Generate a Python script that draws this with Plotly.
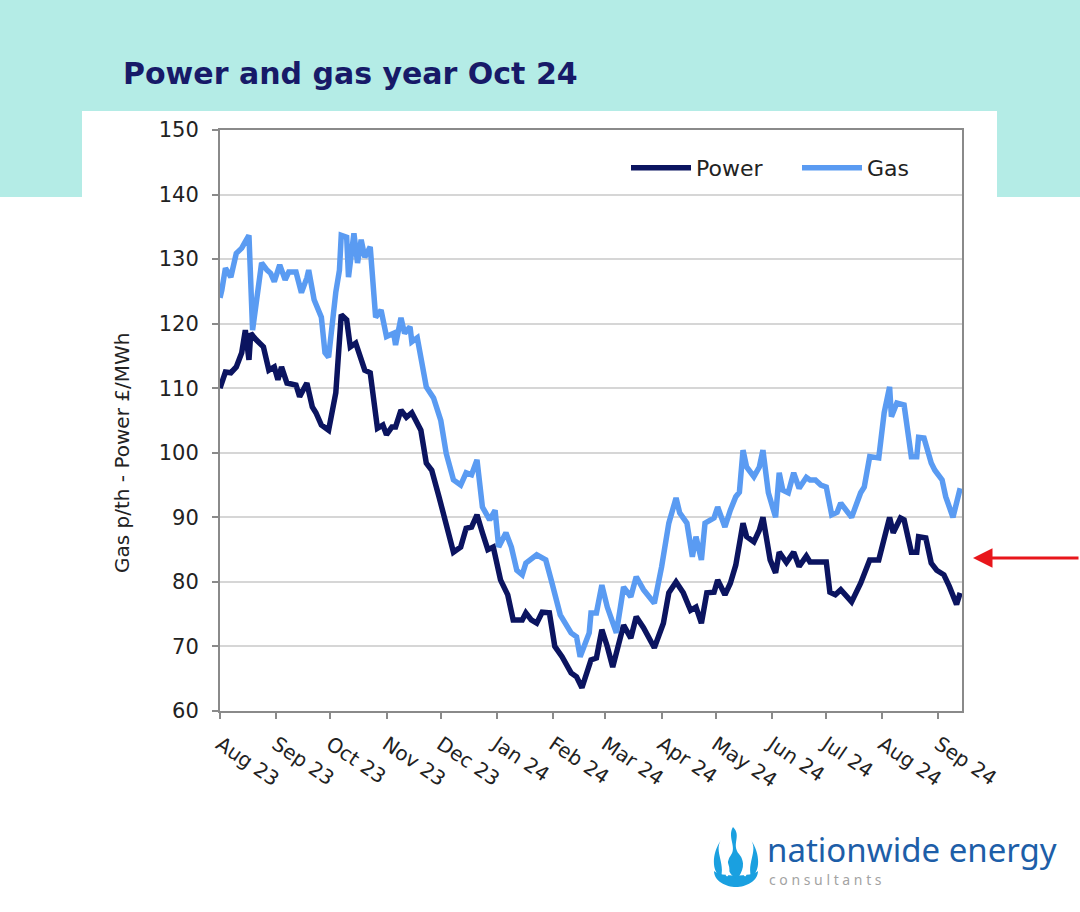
import base64
import plotly.graph_objects as go

# ---------------- data ----------------
power_dates = [
    "2023-08-01", "2023-08-04", "2023-08-07", "2023-08-10", "2023-08-13", "2023-08-15",
    "2023-08-17", "2023-08-18", "2023-08-21", "2023-08-25", "2023-08-28", "2023-08-31",
    "2023-09-02", "2023-09-04", "2023-09-07", "2023-09-12", "2023-09-14", "2023-09-18",
    "2023-09-21", "2023-09-23", "2023-09-26", "2023-09-30", "2023-10-04", "2023-10-07",
    "2023-10-10", "2023-10-12", "2023-10-15", "2023-10-18", "2023-10-20", "2023-10-23",
    "2023-10-27", "2023-10-30", "2023-11-01", "2023-11-04", "2023-11-06", "2023-11-09",
    "2023-11-12", "2023-11-15", "2023-11-17", "2023-11-20", "2023-11-23", "2023-11-26",
    "2023-11-30", "2023-12-04", "2023-12-08", "2023-12-12", "2023-12-15", "2023-12-18",
    "2023-12-21", "2023-12-24", "2023-12-27", "2023-12-30", "2024-01-03", "2024-01-07",
    "2024-01-10", "2024-01-15", "2024-01-17", "2024-01-20", "2024-01-23", "2024-01-26",
    "2024-01-30", "2024-02-02", "2024-02-06", "2024-02-11", "2024-02-14", "2024-02-17",
    "2024-02-22", "2024-02-25", "2024-02-28", "2024-03-02", "2024-03-05", "2024-03-11",
    "2024-03-15", "2024-03-18", "2024-03-22", "2024-03-28", "2024-04-02", "2024-04-05",
    "2024-04-09", "2024-04-13", "2024-04-17", "2024-04-20", "2024-04-23", "2024-04-26",
    "2024-04-30", "2024-05-02", "2024-05-06", "2024-05-09", "2024-05-12", "2024-05-16",
    "2024-05-18", "2024-05-22", "2024-05-25", "2024-05-27", "2024-05-30", "2024-05-31",
    "2024-06-03", "2024-06-05", "2024-06-09", "2024-06-13", "2024-06-16", "2024-06-20",
    "2024-06-22", "2024-07-01", "2024-07-03", "2024-07-06", "2024-07-09", "2024-07-15",
    "2024-07-20", "2024-07-25", "2024-07-30", "2024-08-02", "2024-08-05", "2024-08-07",
    "2024-08-11", "2024-08-13", "2024-08-17", "2024-08-20", "2024-08-21", "2024-08-25",
    "2024-08-28", "2024-08-31", "2024-09-04", "2024-09-07", "2024-09-11", "2024-09-13",
]
power_values = [
    110.0, 112.5, 112.4, 113.3, 115.5, 119.0,
    114.4, 118.5, 117.5, 116.4, 112.8, 113.3,
    111.3, 113.3, 110.8, 110.5, 108.7, 110.8,
    107.1, 106.2, 104.3, 103.5, 109.3, 121.4,
    120.6, 116.4, 117.0, 114.8, 112.8, 112.4,
    103.8, 104.3, 102.8, 104.0, 104.0, 106.6,
    105.5, 106.2, 105.0, 103.5, 98.4, 97.3,
    93.2, 89.1, 84.6, 85.4, 88.3, 88.5,
    90.4, 87.6, 85.0, 85.4, 80.3, 78.0,
    74.1, 74.1, 75.2, 74.1, 73.6, 75.3,
    75.2, 70.0, 68.4, 65.9, 65.3, 63.6,
    67.9, 68.2, 72.6, 70.0, 66.8, 73.3,
    71.3, 74.6, 72.9, 69.8, 73.6, 78.3,
    80.0, 78.3, 75.6, 76.1, 73.6, 78.3,
    78.4, 80.3, 78.0, 79.8, 82.6, 89.1,
    87.0, 86.2, 88.0, 90.0, 84.5, 83.4,
    81.4, 84.6, 83.0, 84.6, 82.4, 84.0,
    83.1, 83.1, 78.4, 78.0, 78.8, 76.9,
    79.8, 83.4, 83.4, 86.5, 90.0, 87.6,
    89.9, 89.6, 84.6, 84.6, 87.0, 86.8,
    82.9, 81.8, 81.1, 79.3, 76.5, 78.3,
]

gas_dates = [
    "2023-08-01", "2023-08-02", "2023-08-04", "2023-08-06", "2023-08-07", "2023-08-10",
    "2023-08-13", "2023-08-15", "2023-08-17", "2023-08-19", "2023-08-21", "2023-08-24",
    "2023-08-27", "2023-08-29", "2023-08-31", "2023-09-03", "2023-09-06", "2023-09-08",
    "2023-09-12", "2023-09-15", "2023-09-18", "2023-09-19", "2023-09-22", "2023-09-25",
    "2023-09-26", "2023-09-28", "2023-09-30", "2023-10-04", "2023-10-06", "2023-10-07",
    "2023-10-10", "2023-10-11", "2023-10-14", "2023-10-16", "2023-10-18", "2023-10-20",
    "2023-10-23", "2023-10-26", "2023-10-29", "2023-11-01", "2023-11-05", "2023-11-06",
    "2023-11-09", "2023-11-11", "2023-11-14", "2023-11-15", "2023-11-18", "2023-11-23",
    "2023-11-27", "2023-12-01", "2023-12-04", "2023-12-08", "2023-12-12", "2023-12-15",
    "2023-12-18", "2023-12-21", "2023-12-24", "2023-12-28", "2023-12-31", "2024-01-02",
    "2024-01-06", "2024-01-09", "2024-01-12", "2024-01-15", "2024-01-17", "2024-01-23",
    "2024-01-28", "2024-01-31", "2024-02-05", "2024-02-11", "2024-02-14", "2024-02-16",
    "2024-02-21", "2024-02-22", "2024-02-25", "2024-02-28", "2024-03-02", "2024-03-07",
    "2024-03-11", "2024-03-15", "2024-03-18", "2024-03-22", "2024-03-28", "2024-04-01",
    "2024-04-05", "2024-04-09", "2024-04-11", "2024-04-15", "2024-04-18", "2024-04-20",
    "2024-04-23", "2024-04-25", "2024-04-30", "2024-05-02", "2024-05-06", "2024-05-09",
    "2024-05-12", "2024-05-14", "2024-05-16", "2024-05-18", "2024-05-22", "2024-05-25",
    "2024-05-27", "2024-05-30", "2024-06-03", "2024-06-05", "2024-06-07", "2024-06-10",
    "2024-06-13", "2024-06-16", "2024-06-20", "2024-06-22", "2024-06-25", "2024-06-28",
    "2024-07-01", "2024-07-04", "2024-07-07", "2024-07-09", "2024-07-12", "2024-07-15",
    "2024-07-20", "2024-07-22", "2024-07-25", "2024-07-30", "2024-08-02", "2024-08-05",
    "2024-08-06", "2024-08-09", "2024-08-13", "2024-08-17", "2024-08-20", "2024-08-21",
    "2024-08-24", "2024-08-28", "2024-08-30", "2024-09-03", "2024-09-05", "2024-09-09",
    "2024-09-13",
]
gas_values = [
    124.0, 125.2, 128.6, 127.5, 127.2, 130.9,
    131.7, 132.7, 133.7, 119.0, 123.2, 129.4,
    128.3, 127.8, 126.5, 129.1, 126.8, 128.0,
    128.0, 124.8, 127.1, 128.3, 123.7, 121.4,
    121.0, 115.5, 114.8, 124.9, 128.3, 133.7,
    133.4, 127.2, 134.0, 129.4, 133.0, 130.3,
    131.9, 121.0, 122.1, 118.0, 118.5, 116.7,
    120.9, 118.5, 119.5, 117.2, 117.8, 110.2,
    108.5, 105.0, 99.9, 95.8, 95.0, 96.9,
    96.6, 98.9, 91.6, 89.6, 91.1, 85.4,
    87.6, 85.4, 81.8, 81.1, 82.9, 84.2,
    83.4, 80.3, 74.9, 72.1, 71.5, 68.4,
    72.1, 75.2, 75.2, 79.5, 76.1, 72.1,
    79.2, 77.7, 80.8, 78.8, 76.7, 82.3,
    89.1, 93.0, 90.7, 89.1, 83.9, 87.0,
    83.4, 89.1, 89.9, 91.6, 88.5, 91.1,
    93.2, 93.9, 100.4, 97.8, 96.3, 97.8,
    100.4, 93.8, 90.0, 96.9, 94.2, 93.8,
    96.9, 94.5, 96.2, 95.8, 95.8, 95.0,
    94.7, 90.4, 90.8, 92.2, 91.0, 90.0,
    93.8, 94.7, 99.4, 99.2, 106.2, 110.2,
    105.6, 107.7, 107.4, 99.4, 99.4, 102.4,
    102.3, 98.4, 97.3, 95.8, 93.2, 90.0,
    94.5,
]

month_ticks = [
    "2023-08-01", "2023-09-01", "2023-10-01", "2023-11-01", "2023-12-01",
    "2024-01-01", "2024-02-01", "2024-03-01", "2024-04-01", "2024-05-01",
    "2024-06-01", "2024-07-01", "2024-08-01", "2024-09-01",
]
month_labels = [
    "Aug 23", "Sep 23", "Oct 23", "Nov 23", "Dec 23", "Jan 24", "Feb 24",
    "Mar 24", "Apr 24", "May 24", "Jun 24", "Jul 24", "Aug 24", "Sep 24",
]
y_ticks = [60, 70, 80, 90, 100, 110, 120, 130, 140, 150]

# ---------------- layout geometry ----------------
W, H = 1080, 912
L, R, T, B = 220, 962, 130, 711
PW, PH = R - L, B - T


def px(x):
    return (x - L) / PW


def py(y):
    return (B - y) / PH


POWER_C = "#0b1460"
GAS_C = "#5a9bf2"
FONT = "'DejaVu Sans', Verdana, sans-serif"
TXT = "#222222"

fig = go.Figure()
fig.add_trace(go.Scatter(x=power_dates, y=power_values, name="Power", mode="lines",
                         line=dict(color=POWER_C, width=5.5), legend="legend"))
fig.add_trace(go.Scatter(x=gas_dates, y=gas_values, name="Gas", mode="lines",
                         line=dict(color=GAS_C, width=5.5), legend="legend2"))

shapes = [
    dict(type="rect", xref="paper", yref="paper", x0=px(0), x1=px(W), y0=py(197), y1=py(0),
         fillcolor="#b4ece6", line=dict(width=0), layer="below"),
    dict(type="rect", xref="paper", yref="paper", x0=px(82), x1=px(997), y0=py(197), y1=py(111),
         fillcolor="white", line=dict(width=0), layer="below"),
]

flame_svg = """<svg xmlns='http://www.w3.org/2000/svg' viewBox='0 0 48 60' width='48' height='60'>
<g fill='#1aa0e0'>
<path d='M2 44 C2 54 14 60 24 60 C34 60 46 54 46 44 C40 50 8 50 2 44 Z'/>
<path d='M21 0 C30 9 19 17 27 27 C34 35 31 45 25 52 C15 47 13 36 19 28 C25 20 15 10 21 0 Z'/>
<path d='M9 13 C2 24 13 35 9 50 C0 45 -1 28 9 13 Z'/>
<path d='M39 13 C46 24 35 35 39 50 C48 45 49 28 39 13 Z'/>
</g>
<g fill='none' stroke='white' stroke-width='2.4' stroke-linecap='round'>
<path d='M15 27 C10 33 20 40 15 48'/>
<path d='M33 27 C28 33 38 40 33 48'/>
</g>
</svg>"""
flame_uri = "data:image/svg+xml;base64," + base64.b64encode(flame_svg.encode()).decode()

annotations = [
    dict(text="<b>Power and gas year Oct 24</b>", xref="paper", yref="paper",
         x=px(121), y=py(73), xanchor="left", yanchor="middle", showarrow=False,
         font=dict(family=FONT, size=30, color="#171a68")),
    dict(text="Gas p/th - Power £/MWh", xref="paper", yref="paper",
         x=px(122), y=py(453), xanchor="center", yanchor="middle", textangle=-90,
         showarrow=False, font=dict(family=FONT, size=20, color=TXT)),
    dict(text="", xref="paper", yref="paper", x=px(973), y=py(558), ax=110, ay=0,
         showarrow=True, arrowhead=2, arrowsize=1.3, arrowwidth=3, arrowcolor="#e8161b"),
    dict(text="nationwide energy", xref="paper", yref="paper", x=px(765), y=py(849),
         xanchor="left", yanchor="middle", showarrow=False,
         font=dict(family="'Noto Sans', 'Open Sans', sans-serif", size=33, color="#1d5ea8")),
    dict(text="c o n s u l t a n t s", xref="paper", yref="paper", x=px(767), y=py(879),
         xanchor="left", yanchor="middle", showarrow=False,
         font=dict(family="'Noto Sans', 'Open Sans', sans-serif", size=14, color="#a3a3a3")),
]

legend_common = dict(orientation="h", yanchor="middle", bgcolor="rgba(0,0,0,0)",
                     font=dict(family=FONT, size=22, color=TXT), itemwidth=60)

fig.update_layout(
    width=W, height=H,
    margin=dict(l=L, r=W - R, t=T, b=H - B),
    paper_bgcolor="white", plot_bgcolor="rgba(0,0,0,0)",
    shapes=shapes, annotations=annotations,
    images=[dict(source=flame_uri, xref="paper", yref="paper", x=px(712), y=py(827),
                 sizex=px(760) - px(712), sizey=py(827) - py(887),
                 xanchor="left", yanchor="top", sizing="stretch", layer="above")],
    showlegend=True,
    legend=dict(x=px(626), y=py(168), xanchor="left", **legend_common),
    legend2=dict(x=px(797), y=py(168), xanchor="left", **legend_common),
    font=dict(family=FONT, color=TXT),
)

fig.update_xaxes(
    type="date", range=["2023-08-01", "2024-09-14"],
    tickmode="array", tickvals=month_ticks, ticktext=month_labels,
    tickangle=34, tickfont=dict(family=FONT, size=20, color=TXT), ticklabelstandoff=6,
    showgrid=False, showline=True, linecolor="#8a8a8a", linewidth=2, mirror=True,
    ticks="outside", ticklen=6, tickcolor="#8a8a8a", tickwidth=2, zeroline=False,
)
fig.update_yaxes(
    range=[60, 150], tickmode="array", tickvals=y_ticks,
    tickfont=dict(family=FONT, size=21, color=TXT), ticklabelstandoff=9,
    showgrid=True, gridcolor="#d6d6d6", gridwidth=2,
    showline=True, linecolor="#8a8a8a", linewidth=2, mirror=True,
    ticks="outside", ticklen=6, tickcolor="#8a8a8a", tickwidth=2, zeroline=False,
)

fig.write_html("out.html", config={"displayModeBar": False},
               post_script="document.body.style.margin='0px';")
